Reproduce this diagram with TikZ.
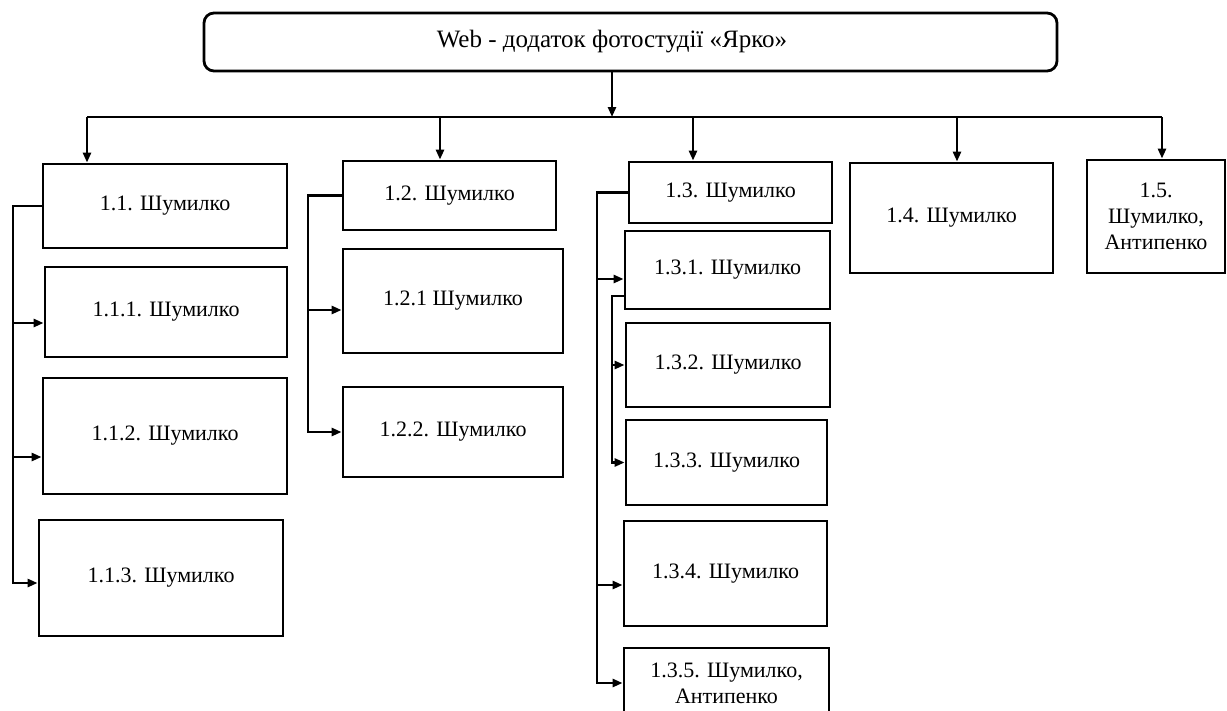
\documentclass[tikz,border=0pt]{standalone}
\usepackage{fontspec}
\setmainfont{Liberation Serif}
\usetikzlibrary{arrows.meta}
\usetikzlibrary{positioning}

\tikzset{
	blok/.style={draw, line width=2.8pt, rectangle, inner sep=2pt, align=center, font=\fontsize{22}{26}\selectfont},
	lin/.style={line width=2.6pt},
	arr/.style={lin, -{Triangle[length=10pt,width=8pt]}}
}

\begin{document}
\begin{tikzpicture}[x=1pt, y=-1pt]
			\useasboundingbox (0,0) rectangle (1227,710);
			\clip (0,0) rectangle (1227,710);
			\node[draw, line width=2.8pt, rounded corners=10pt, minimum width=853pt, minimum height=58pt] (web) at (630.5,42) {};
			\node[font=\fontsize{25}{29}\selectfont] (webtext) at (612,42) {Web - додаток фотостудії «Ярко»};
			\node[blok, minimum width=244pt, minimum height=84pt] (b11) at (165,206) {1.1. Шумилко};
			\node[blok, minimum width=242pt, minimum height=90pt] (b111) at (166,312) {1.1.1. Шумилко};
			\node[blok, minimum width=244pt, minimum height=116pt] (b112) at (165,436) {1.1.2. Шумилко};
			\node[blok, minimum width=244pt, minimum height=116pt] (b113) at (161,578) {1.1.3. Шумилко};
			\node[blok, minimum width=213pt, minimum height=69pt] (b12) at (449.5,195.5) {1.2. Шумилко};
			\node[blok, minimum width=220pt, minimum height=104pt] (b121) at (453,301) {1.2.1 Шумилко};
			\node[blok, minimum width=220pt, minimum height=90pt] (b122) at (453,432) {1.2.2. Шумилко};
			\node[blok, minimum width=203pt, minimum height=61pt] (b13) at (730.5,192.5) {1.3. Шумилко};
			\node[blok, minimum width=205pt, minimum height=78pt] (b131) at (727.5,270) {1.3.1. Шумилко};
			\node[blok, minimum width=204pt, minimum height=84pt] (b132) at (728,365) {1.3.2. Шумилко};
			\node[blok, minimum width=201pt, minimum height=85pt] (b133) at (726.5,462.5) {1.3.3. Шумилко};
			\node[blok, minimum width=203pt, minimum height=105pt] (b134) at (725.5,573.5) {1.3.4. Шумилко};
			\node[blok, minimum width=205pt, minimum height=70pt] (b135) at (726.5,683) {1.3.5. Шумилко,\\Антипенко};
			\node[blok, minimum width=203pt, minimum height=110pt] (b14) at (951.5,218) {1.4. Шумилко};
			\node[blok, minimum width=138pt, minimum height=113pt] (b15) at (1156,216.5) {1.5.\\Шумилко,\\Антипенко};
			\coordinate (busL) at (87,117);
			\coordinate (busR) at (1162,117);
			\coordinate (t1) at (13,0);
			\coordinate (t2) at (308,0);
			\coordinate (t3) at (597,0);
			\coordinate (t4) at (612,0);
			\draw[arr] (webtext |- web.south) -- (webtext |- busL);
			\draw[lin] (busL) -- (busR);
			\foreach \x/\n in {87/b11, 440/b12, 693/b13, 957/b14, 1162/b15}
			{
				\coordinate (d\n) at (\x,117);
				\draw[arr] (d\n) -- (d\n |- \n.north);
			}
			\draw[arr] (b11.west) -- (b11.west -| t1) |- ([yshift=-5pt]b113.west);
			\draw[arr] ([yshift=-11pt]b111.west -| t1) -- ([yshift=-11pt]b111.west);
			\draw[arr] ([yshift=-21pt]b112.west -| t1) -- ([yshift=-21pt]b112.west);
			\draw[arr] (b12.west) -- (b12.west -| t2) |- (b122.west);
			\draw[arr] ([yshift=-9pt]b121.west -| t2) -- ([yshift=-9pt]b121.west);
			\draw[arr] (b13.west) -- (b13.west -| t3) |- (b135.west);
			\draw[arr] ([yshift=-9pt]b131.west -| t3) -- ([yshift=-9pt]b131.west);
			\draw[arr] ([yshift=-11.5pt]b134.west -| t3) -- ([yshift=-11.5pt]b134.west);
			\draw[arr] ([yshift=-26pt]b131.west) -- ([yshift=-26pt]b131.west -| t4) |- (b133.west);
			\draw[arr] (b132.west -| t4) -- (b132.west);
		\end{tikzpicture}
\end{document}
